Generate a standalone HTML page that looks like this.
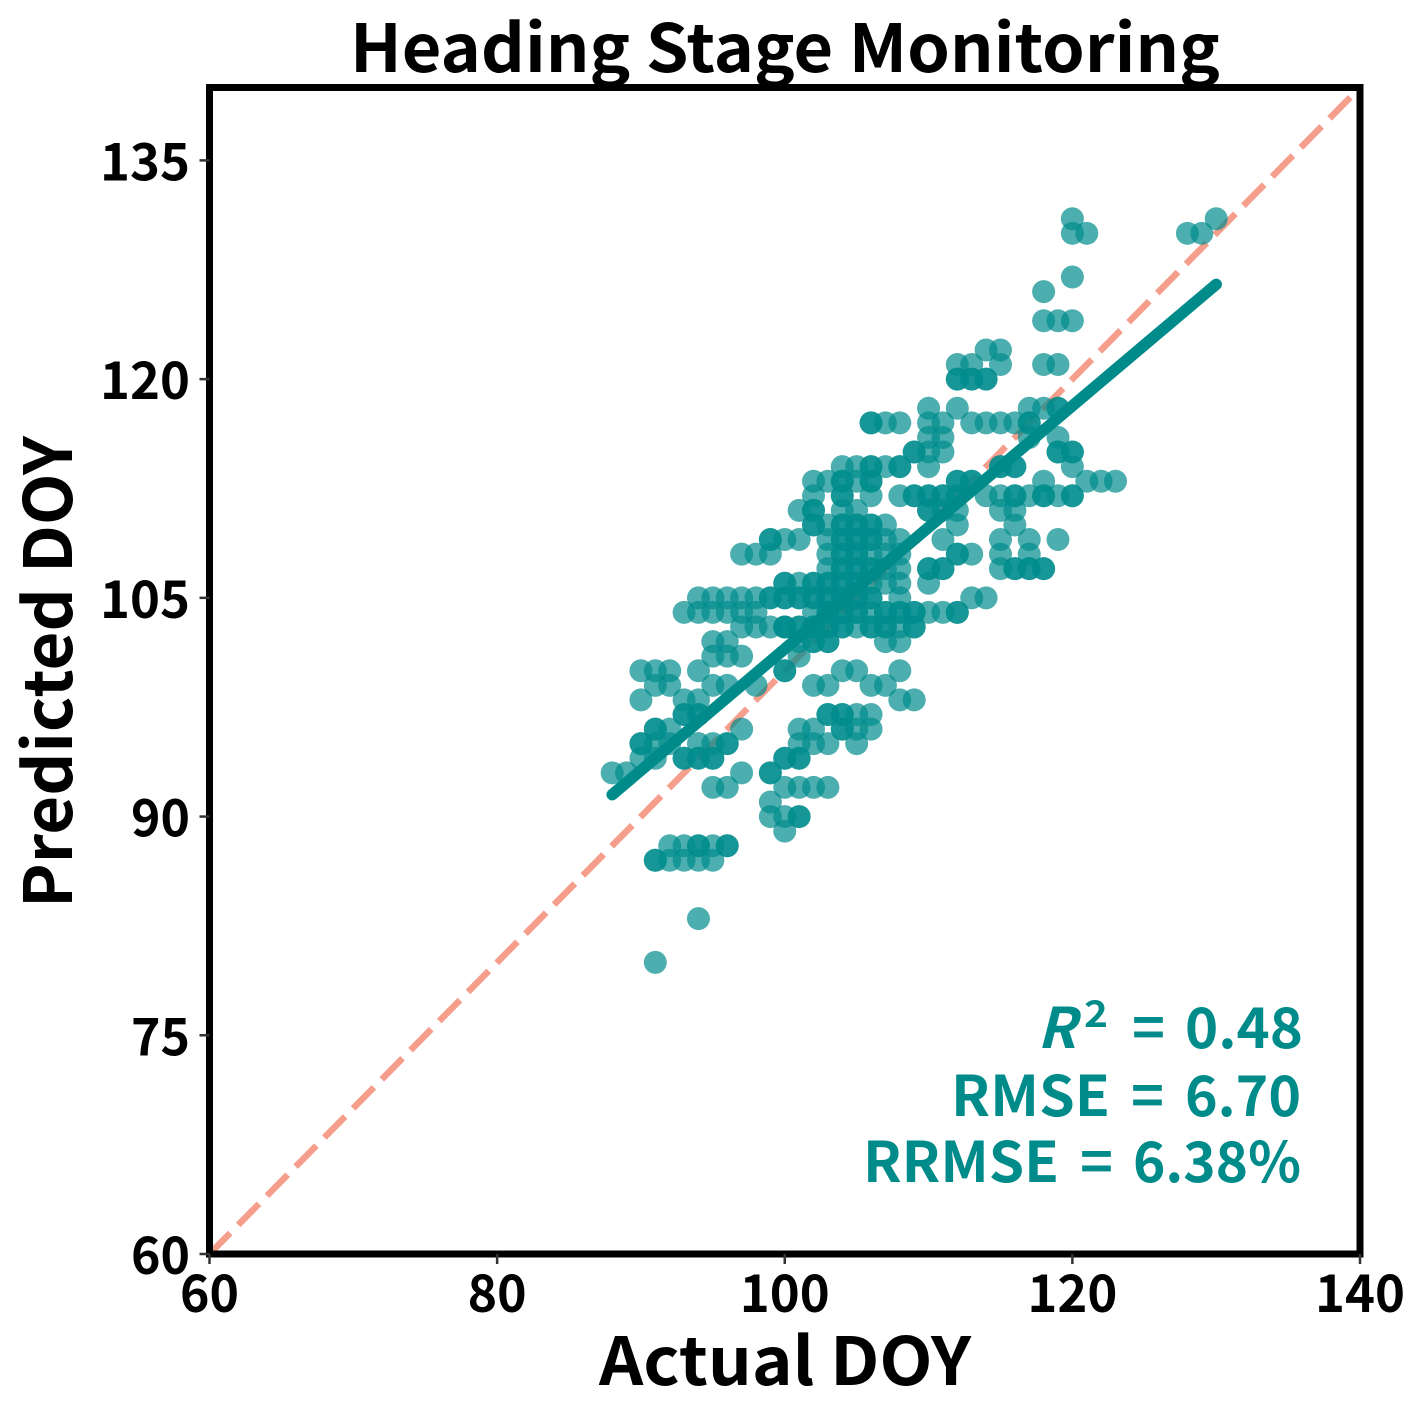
<!DOCTYPE html>
<html lang="en">
<head>
<meta charset="utf-8">
<title>Heading Stage Monitoring</title>
<style>
html,body{margin:0;padding:0;background:#fff;width:1419px;height:1409px;overflow:hidden}
svg{display:block}
text{font-family:"Noto Sans CJK SC","Liberation Sans",sans-serif;font-weight:700}
</style>
</head>
<body>
<svg id="chart" xmlns="http://www.w3.org/2000/svg" width="1419" height="1409" viewBox="0 0 1419 1409">
  <rect x="0" y="0" width="1419" height="1409" fill="#ffffff"/>
  <defs><clipPath id="plot-clip"><rect x="209.5" y="87.5" width="1150.5" height="1166.5"/></clipPath></defs>
  <g id="ref-layer" clip-path="url(#plot-clip)"></g>
  <g id="points-layer"></g>
  <g id="fit-layer"></g>
  <g id="axes-layer"></g>
  <text x="350" y="72" font-size="66" textLength="870" lengthAdjust="spacingAndGlyphs" fill="#000">Heading Stage Monitoring</text>
  <text x="599" y="1385" font-size="66" textLength="372" lengthAdjust="spacingAndGlyphs" fill="#000">Actual DOY</text>
  <text transform="translate(72,908) rotate(-90)" x="0" y="0" font-size="66" textLength="472" lengthAdjust="spacingAndGlyphs" fill="#000">Predicted DOY</text>
  <g fill="#008b8b">
    <text x="1037" y="1048" font-size="56" font-style="italic" textLength="39" lengthAdjust="spacingAndGlyphs">R</text>
    <text x="1084" y="1027" font-size="37" textLength="24" lengthAdjust="spacingAndGlyphs">2</text>
    <text x="1132" y="1048" font-size="56" textLength="33" lengthAdjust="spacingAndGlyphs">=</text>
    <text x="1185" y="1048" font-size="56" textLength="118" lengthAdjust="spacingAndGlyphs">0.48</text>
    <text x="951" y="1116" font-size="56" textLength="159" lengthAdjust="spacingAndGlyphs">RMSE</text>
    <text x="1131" y="1116" font-size="56" textLength="33" lengthAdjust="spacingAndGlyphs">=</text>
    <text x="1185" y="1116" font-size="56" textLength="116" lengthAdjust="spacingAndGlyphs">6.70</text>
    <text x="863" y="1182" font-size="56" textLength="196" lengthAdjust="spacingAndGlyphs">RRMSE</text>
    <text x="1080" y="1182" font-size="56" textLength="33" lengthAdjust="spacingAndGlyphs">=</text>
    <text x="1133" y="1182" font-size="56" textLength="168" lengthAdjust="spacingAndGlyphs">6.38%</text>
  </g>
</svg>
<script>
const xTicks = [60, 80, 100, 120, 140];
const yTicks = [60, 75, 90, 105, 120, 135];
const axisMin = [60, 60];
const axisMax = [140, 140];
const refLineX = [60, 140];
const refLineY = [60, 140];
const fitLineX = [88, 130];
const fitLineY = [91.5, 126.5];
const predictedLevels = [80,83,87,88,89,90,91,92,93,94,95,96,97,98,99,100,101,102,103,104,105,106,107,108,109,110,111,112,113,114,115,116,117,118,120,121,122,124,126,127,130,131];
const actualAtLevel = [
  [91],
  [94],
  [91,91,92,93,94,95],
  [92,93,94,94,95,96,96],
  [100],
  [99,100,101,101],
  [99],
  [95,96,100,101,102,103],
  [88,89,97,99,99],
  [90,91,93,93,94,94,95,95,100,100,101,101],
  [90,90,91,92,94,95,96,96,101,102,103,105],
  [91,91,92,97,101,102,104,104,105,106],
  [93,93,94,94,103,103,104,104,105,106],
  [90,93,94,108,109],
  [91,92,95,96,98,102,103,106,107],
  [90,91,92,94,100,100,104,105,108],
  [95,96,97,101],
  [95,96,101,102,102,103,103,107,108],
  [97,98,99,100,100,100,101,101,102,102,103,103,104,104,105,106,106,107,107,108,109,109],
  [93,94,95,96,97,98,102,103,103,104,104,105,105,106,107,107,108,108,109,109,110,111,112,112],
  [94,95,96,97,98,99,99,100,100,101,101,102,102,103,103,104,104,105,105,106,106,108,113,114],
  [100,100,101,102,102,103,103,104,104,105,105,106,107,108,110],
  [103,104,104,105,105,106,106,107,108,110,110,111,111,115,116,116,117,117,118,118],
  [97,98,99,103,104,104,105,105,106,107,108,112,112,113,115,117],
  [99,99,100,101,103,104,104,105,105,106,106,107,108,111,115,117,119],
  [102,102,103,104,104,105,105,106,106,107,112,116],
  [101,102,102,104,105,110,110,111,112,115,116],
  [102,104,104,106,108,109,109,110,110,111,111,112,112,114,115,116,116,117,118,118,119,120,120],
  [102,103,104,104,105,106,106,112,112,113,113,118,121,122,123],
  [104,105,106,106,107,108,108,110,115,115,116,116,120],
  [109,109,110,111,119,119,120,120],
  [110,111,117,119],
  [106,106,107,108,110,111,113,114,115,116,117,117],
  [110,112,117,118,119,119],
  [112,112,113,113,114,114],
  [112,113,115,118,119],
  [114,115],
  [118,119,120],
  [118],
  [120],
  [120,121,128,129],
  [120,130]
];

const NS = 'http://www.w3.org/2000/svg';
const plotLeft = 209.5, plotRight = 1360, plotTop = 87.5, plotBottom = 1254;
function xScale(v) { return plotLeft + (v - axisMin[0]) / (axisMax[0] - axisMin[0]) * (plotRight - plotLeft); }
function yScale(v) { return plotBottom - (v - axisMin[1]) / (axisMax[1] - axisMin[1]) * (plotBottom - plotTop); }
function make(tag, attrs, parent) {
  const el = document.createElementNS(NS, tag);
  for (const k in attrs) el.setAttribute(k, attrs[k]);
  parent.appendChild(el);
  return el;
}
const refLayer = document.getElementById('ref-layer');
const pointsLayer = document.getElementById('points-layer');
const fitLayer = document.getElementById('fit-layer');
const axesLayer = document.getElementById('axes-layer');

const refLine = make('line', {x1: xScale(refLineX[0]), y1: yScale(refLineY[0]), x2: xScale(refLineX[1]), y2: yScale(refLineY[1]), stroke: '#f69e8c', 'stroke-width': 6.5, 'stroke-dasharray': '29.5 11.4'}, refLayer);



predictedLevels.forEach(function (level, i) {
  actualAtLevel[i].forEach(function (actual) {
    const dot = make('circle', {cx: xScale(actual), cy: yScale(level), r: 11.5, fill: '#008b8b', 'fill-opacity': 0.7}, pointsLayer);
    
    
  });
});

const fitLine = make('line', {x1: xScale(fitLineX[0]), y1: yScale(fitLineY[0]), x2: xScale(fitLineX[1]), y2: yScale(fitLineY[1]), stroke: '#008b8b', 'stroke-width': 11.5, 'stroke-linecap': 'round'}, fitLayer);



const frame = make('rect', {x: plotLeft, y: plotTop, width: plotRight - plotLeft, height: plotBottom - plotTop, fill: 'none', stroke: '#000', 'stroke-width': 7}, axesLayer);



xTicks.forEach(function (t) {
  const px = xScale(t);
  const mark = make('line', {x1: px, y1: plotBottom, x2: px, y2: plotBottom + 10, stroke: '#333', 'stroke-width': 2.5}, axesLayer);
  
  
  const label = make('text', {x: px, y: 1312, 'font-size': 52, 'text-anchor': 'middle', fill: '#000', textLength: String(t).length === 3 ? 90 : 59, lengthAdjust: 'spacingAndGlyphs'}, axesLayer);
  
  
  label.textContent = t;
});

yTicks.forEach(function (t) {
  const py = yScale(t);
  const mark = make('line', {x1: plotLeft - 10, y1: py, x2: plotLeft, y2: py, stroke: '#333', 'stroke-width': 2.5}, axesLayer);
  
  
  const label = make('text', {x: 190, y: py + 20, 'font-size': 52, 'text-anchor': 'end', fill: '#000', textLength: String(t).length === 3 ? 90 : 59, lengthAdjust: 'spacingAndGlyphs'}, axesLayer);
  
  
  label.textContent = t;
});
</script>
</body>
</html>
